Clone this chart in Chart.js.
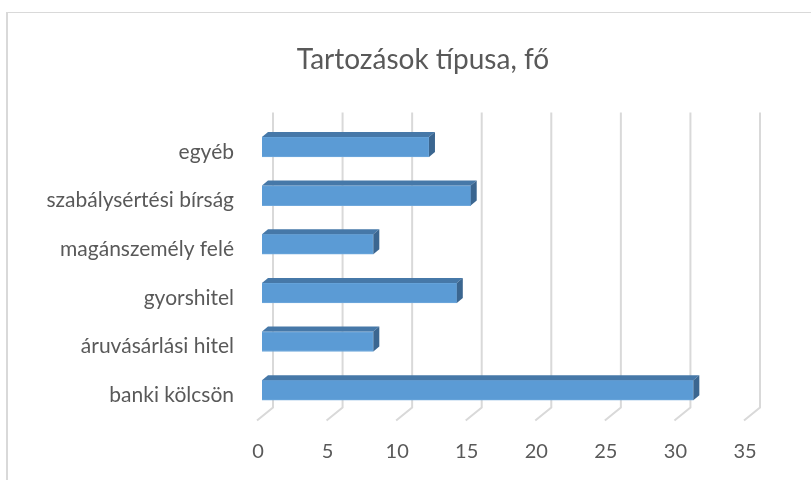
<!DOCTYPE html>
<html lang="hu">

<head>
    <meta charset="UTF-8">
    <title>Tartozások típusa, fő</title>
    <script src="https://cdn.jsdelivr.net/npm/chart.js"></script>
    <style>
        body {
            margin: 0;
            background: #ffffff;
            overflow: hidden;
        }

        #wrap {
            position: relative;
            width: 811px;
            height: 480px;
        }

        #frame {
            position: absolute;
            left: 6px;
            top: 12px;
            width: 820px;
            height: 480px;
            border-top: 1px solid #d9d9d9;
            border-left: 2px solid #d9d9d9;
        }

        canvas {
            position: absolute;
            left: 0;
            top: 0;
        }
    </style>
</head>

<body>
    <div id="wrap">
        <div id="frame"></div>
        <canvas id="debtChart" width="811" height="480"></canvas>
    </div>

    <script>
        // Data (top to bottom)
        const categories = ['egyéb', 'szabálysértési bírság', 'magánszemély felé', 'gyorshitel', 'áruvásárlási hitel', 'banki kölcsön'];
        const people = [12, 15, 8, 14, 8, 31];
        const xTicks = [0, 5, 10, 15, 20, 25, 30, 35];

        const textColor = '#595959';
        const gridColor = '#d9d9d9';

        // back wall gridlines + floor diagonals (fake 3D)
        const wallGrid = {
            id: 'wallGrid',
            beforeDatasetsDraw(chart) {
                const ctx = chart.ctx;
                const x = chart.scales.x;
                const area = chart.chartArea;
                ctx.save();
                ctx.strokeStyle = gridColor;
                ctx.lineWidth = 2;
                xTicks.forEach(v => {
                    const px = x.getPixelForValue(v);
                    ctx.beginPath();
                    ctx.moveTo(px + 11, area.top - 10);
                    ctx.lineTo(px + 11, area.bottom - 7);
                    ctx.lineTo(px - 5, area.bottom + 6);
                    ctx.stroke();
                });
                ctx.restore();
            }
        };

        // top and side faces of each bar
        const barDepth = {
            id: 'barDepth',
            afterDatasetsDraw(chart) {
                const ctx = chart.ctx;
                const dx = 6, dy = 5;
                chart.getDatasetMeta(0).data.forEach(bar => {
                    const top = bar.y - bar.height / 2;
                    const bottom = bar.y + bar.height / 2;
                    ctx.save();
                    ctx.fillStyle = '#4678a8';
                    ctx.beginPath();
                    ctx.moveTo(bar.base, top);
                    ctx.lineTo(bar.x, top);
                    ctx.lineTo(bar.x + dx, top - dy);
                    ctx.lineTo(bar.base + dx, top - dy);
                    ctx.closePath();
                    ctx.fill();
                    ctx.fillStyle = '#3b6690';
                    ctx.beginPath();
                    ctx.moveTo(bar.x, top);
                    ctx.lineTo(bar.x + dx, top - dy);
                    ctx.lineTo(bar.x + dx, bottom - dy);
                    ctx.lineTo(bar.x, bottom);
                    ctx.closePath();
                    ctx.fill();
                    ctx.restore();
                });
            }
        };

        const ctx = document.getElementById('debtChart').getContext('2d');

        new Chart(ctx, {
            type: 'bar',
            data: {
                labels: categories,
                datasets: [{
                    label: 'fő',
                    data: people,
                    backgroundColor: '#5b9bd5',
                    borderColor: '#6fa8dc',
                    borderWidth: 1,
                    barThickness: 20
                }]
            },
            options: {
                indexAxis: 'y',
                responsive: false,
                animation: false,
                layout: {
                    padding: { left: 35, right: 0, top: 0, bottom: 0 }
                },
                plugins: {
                    legend: { display: false },
                    tooltip: { enabled: false },
                    title: {
                        display: true,
                        text: 'Tartozások típusa, fő',
                        color: textColor,
                        font: { family: 'Lato', size: 28, weight: 'normal' },
                        padding: { top: 43, bottom: 46 }
                    }
                },
                scales: {
                    x: {
                        min: 0,
                        max: 35,
                        grid: { display: false },
                        border: { display: false },
                        afterBuildTicks(scale) {
                            scale.ticks = xTicks.map(v => ({ value: v }));
                        },
                        afterFit(scale) {
                            scale.height = 65.5;
                        },
                        ticks: {
                            color: textColor,
                            font: { family: 'Lato', size: 20 },
                            padding: 17,
                            labelOffset: -4
                        }
                    },
                    y: {
                        grid: { display: false },
                        border: { display: false },
                        afterFit(scale) {
                            scale.width = 227;
                        },
                        ticks: {
                            color: textColor,
                            font: { family: 'Lato', size: 21 },
                            padding: 20,
                            labelOffset: 5
                        }
                    },
                    // empty right-hand axis, only reserves the right margin
                    yRight: {
                        type: 'category',
                        position: 'right',
                        labels: categories,
                        grid: { display: false },
                        border: { display: false },
                        ticks: { display: false },
                        afterFit(scale) {
                            scale.width = 62;
                        }
                    }
                }
            },
            plugins: [wallGrid, barDepth]
        });
    </script>
</body>

</html>
